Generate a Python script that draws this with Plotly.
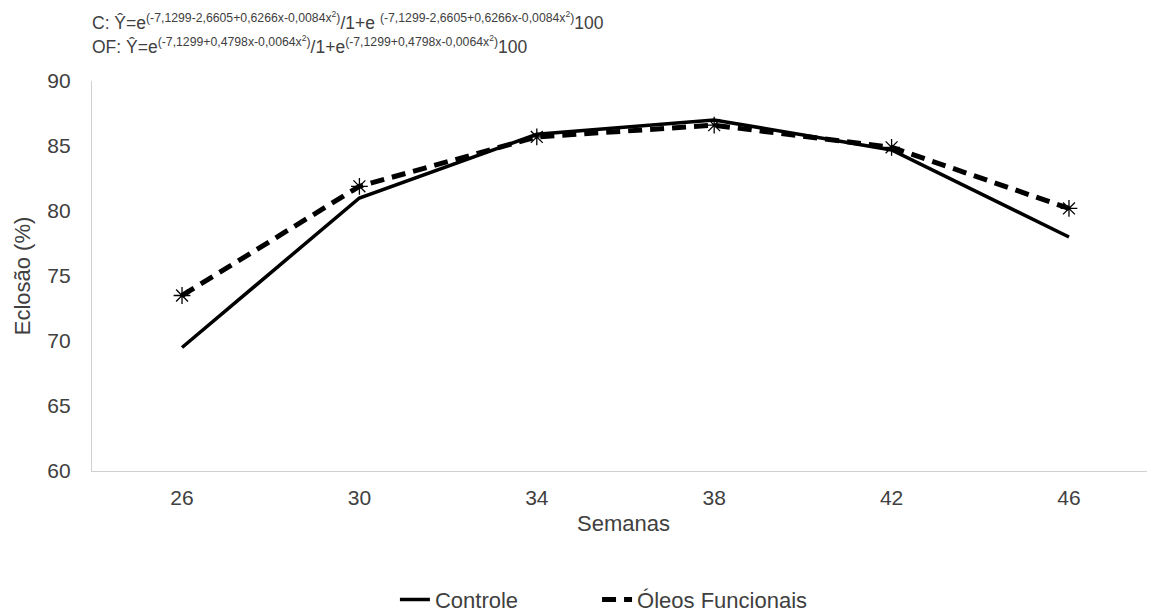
import plotly.graph_objects as go

semanas = [26, 30, 34, 38, 42, 46]
controle = [69.5, 81.0, 85.9, 87.0, 84.7, 78.0]
oleos = [73.5, 81.9, 85.7, 86.6, 84.9, 80.2]
y_ticks = [60, 65, 70, 75, 80, 85, 90]

eq_c = ("C: Ŷ=e<sup>(-7,1299-2,6605+0,6266x-0,0084x<sup>2</sup>)</sup>/1+e "
        "<sup>(-7,1299-2,6605+0,6266x-0,0084x<sup>2</sup>)</sup>100")
eq_of = ("OF: Ŷ=e<sup>(-7,1299+0,4798x-0,0064x<sup>2</sup>)</sup>/1+e"
         "<sup>(-7,1299+0,4798x-0,0064x<sup>2</sup>)</sup>100")

font_family = "Liberation Sans, Arial, sans-serif"
txt = "#404040"

fig = go.Figure()
fig.add_trace(go.Scatter(x=semanas, y=controle, mode="lines", name="Controle",
                         legend="legend", line=dict(color="black", width=3.5)))
fig.add_trace(go.Scatter(x=semanas, y=oleos, mode="lines", name="Óleos Funcionais",
                         legend="legend2",
                         line=dict(color="black", width=5, dash="14px,8px")))
fig.add_trace(go.Scatter(x=semanas, y=oleos, mode="markers", showlegend=False,
                         marker=dict(symbol="asterisk-open", size=14, color="black",
                                     line=dict(color="black", width=1.3))))

legend_common = dict(orientation="h", xref="container", yref="container", y=0.033,
                     xanchor="left", yanchor="middle", bgcolor="rgba(0,0,0,0)",
                     font=dict(size=22, color=txt))

fig.update_layout(
    width=1155, height=612,
    margin=dict(l=84, r=8, t=73, b=149),
    paper_bgcolor="white", plot_bgcolor="white",
    font=dict(family=font_family, color=txt),
    xaxis=dict(range=[23.97, 47.94], tickvals=semanas, ticktext=[str(s) for s in semanas],
               showgrid=False, zeroline=False, showline=True, linecolor="#d0d0d0",
               linewidth=1.3, ticks="", ticklabelstandoff=8,
               tickfont=dict(size=21, color=txt),
               title=dict(text="Semanas", font=dict(size=22, color=txt), standoff=7)),
    yaxis=dict(range=[60, 90], tickvals=y_ticks, showgrid=False, zeroline=False,
               showline=True, linecolor="#d0d0d0", linewidth=1.3, ticks="",
               ticklabelstandoff=16, tickfont=dict(size=21, color=txt),
               title=dict(text="Eclosão (%)", font=dict(size=22, color=txt), standoff=10)),
    legend=dict(x=0.335, **legend_common),
    legend2=dict(x=0.510, **legend_common),
    annotations=[
        dict(text=eq_c, xref="paper", yref="paper", x=-0.002, y=(463 - 13) / 390,
             xanchor="left", yanchor="middle", showarrow=False,
             font=dict(size=17.5, color=txt)),
        dict(text=eq_of, xref="paper", yref="paper", x=-0.002, y=(463 - 37) / 390,
             xanchor="left", yanchor="middle", showarrow=False,
             font=dict(size=17.5, color=txt)),
    ],
)

fig.write_html("out.html")
